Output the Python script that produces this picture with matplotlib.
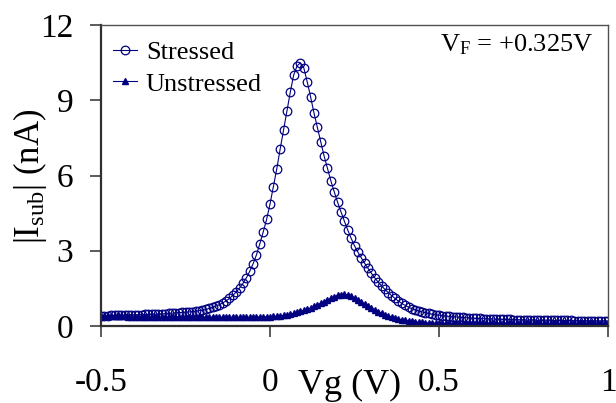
import numpy as np
import matplotlib
matplotlib.use("Agg")
import matplotlib.pyplot as plt

plt.rcParams['font.family'] = ['Liberation Serif', 'DejaVu Serif']
plt.rcParams['mathtext.fontset'] = 'custom'
plt.rcParams['mathtext.rm'] = 'Liberation Serif'
plt.rcParams['mathtext.it'] = 'Liberation Serif:italic'

# Gate voltage sweep (V), 10 mV steps from -0.5 to 1.0
vg = np.round(np.arange(-50, 101) / 100.0, 2)

stressed = [
    0.40, 0.41, 0.41, 0.42, 0.42, 0.43, 0.43, 0.44, 0.44, 0.44,
    0.45, 0.45, 0.45, 0.46, 0.46, 0.47, 0.47, 0.48, 0.48, 0.49,
    0.50, 0.51, 0.52, 0.53, 0.54, 0.55, 0.56, 0.57, 0.59, 0.61,
    0.63, 0.66, 0.70, 0.74, 0.79, 0.85, 0.92, 1.00, 1.10, 1.22,
    1.36, 1.52, 1.70, 1.92, 2.18, 2.48, 2.84, 3.28, 3.75, 4.25,
    4.86, 5.55, 6.26, 7.05, 7.81, 8.57, 9.32, 10.00, 10.37, 10.49,
    10.29, 9.74, 9.14, 8.50, 7.92, 7.35, 6.78, 6.29, 5.79, 5.35,
    4.93, 4.55, 4.18, 3.83, 3.50, 3.20, 2.95, 2.72, 2.50, 2.30,
    2.10, 1.92, 1.75, 1.60, 1.46, 1.33, 1.21, 1.10, 0.99, 0.90,
    0.82, 0.75, 0.69, 0.64, 0.60, 0.56, 0.53, 0.50, 0.47, 0.45,
    0.43, 0.41, 0.40, 0.38, 0.37, 0.36, 0.35, 0.34, 0.33, 0.32,
    0.31, 0.30, 0.30, 0.29, 0.29, 0.28, 0.28, 0.27, 0.27, 0.26,
    0.26, 0.26, 0.25, 0.25, 0.25, 0.24, 0.24, 0.24, 0.24, 0.23,
    0.23, 0.23, 0.23, 0.23, 0.22, 0.22, 0.22, 0.22, 0.22, 0.22,
    0.21, 0.21, 0.21, 0.21, 0.21, 0.21, 0.20, 0.20, 0.20, 0.20,
    0.20,
]

unstressed = [
    0.38, 0.38, 0.38, 0.38, 0.38, 0.38, 0.38, 0.38, 0.37, 0.37,
    0.37, 0.37, 0.37, 0.37, 0.37, 0.37, 0.37, 0.36, 0.36, 0.36,
    0.36, 0.36, 0.36, 0.36, 0.36, 0.36, 0.36, 0.36, 0.36, 0.36,
    0.35, 0.35, 0.35, 0.35, 0.35, 0.35, 0.35, 0.35, 0.35, 0.35,
    0.35, 0.35, 0.35, 0.35, 0.35, 0.36, 0.36, 0.36, 0.36, 0.37,
    0.37, 0.38, 0.39, 0.40, 0.42, 0.44, 0.47, 0.50, 0.54, 0.58,
    0.62, 0.67, 0.72, 0.78, 0.84, 0.90, 0.97, 1.04, 1.11, 1.17,
    1.22, 1.25, 1.26, 1.24, 1.19, 1.12, 1.04, 0.96, 0.88, 0.80,
    0.72, 0.64, 0.57, 0.51, 0.45, 0.40, 0.35, 0.31, 0.28, 0.25,
    0.22, 0.20, 0.18, 0.16, 0.15, 0.14, 0.13, 0.12, 0.12, 0.11,
    0.11, 0.11, 0.10, 0.10, 0.10, 0.10, 0.10, 0.10, 0.10, 0.10,
    0.10, 0.10, 0.10, 0.10, 0.10, 0.10, 0.10, 0.10, 0.10, 0.10,
    0.10, 0.10, 0.10, 0.10, 0.10, 0.10, 0.10, 0.10, 0.10, 0.10,
    0.10, 0.10, 0.10, 0.10, 0.10, 0.10, 0.10, 0.10, 0.10, 0.10,
    0.10, 0.10, 0.10, 0.10, 0.10, 0.10, 0.10, 0.10, 0.10, 0.10,
    0.10,
]

xticks = [-0.5, 0, 0.5, 1]
xticklabels = ['-0.5', '0', '0.5', '1']
yticks = [0, 3, 6, 9, 12]
yticklabels = ['0', '3', '6', '9', '12']

navy = '#000080'

fig = plt.figure(figsize=(6.16, 4.03), dpi=100)
ax = fig.add_axes([101/616, 1 - 326/403, (608 - 101)/616, (326 - 25)/403])

ax.plot(vg, stressed, color=navy, lw=0.8, marker='o', ms=6.2, mfc='none',
        mec=navy, mew=0.9, label='Stressed')
ax.plot(vg, unstressed, color=navy, lw=0.8, marker='^', ms=4.8,
        mfc=navy, mec=navy, label='Unstressed')

ax.set_xlim(-0.5, 1.0)
ax.set_ylim(0, 12)
ax.set_xticks(xticks)
ax.set_xticklabels(xticklabels)
ax.set_yticks(yticks)
ax.set_yticklabels(yticklabels)
ax.tick_params(axis='both', direction='out', length=8, width=1.2,
               colors='#404040', labelcolor='black', labelsize=24)
ax.tick_params(axis='x', pad=22)
ax.tick_params(axis='y', pad=12)

for side in ['left', 'bottom']:
    ax.spines[side].set_color('#303030')
    ax.spines[side].set_linewidth(1.6)
for side in ['top', 'right']:
    ax.spines[side].set_color('#505050')
    ax.spines[side].set_linewidth(1.0)

fig.text(350/616, 1 - 369/403, 'Vg (V)', fontsize=26, ha='center', va='top')
fig.text(30/616, 1 - 176/403, '|I$_{\\mathrm{sub}}$| (nA)', fontsize=25,
         rotation=90, ha='center', va='center')

ax.text(0.970, 0.933, 'V$_{\\mathrm{F}}$ = +0.325V', transform=ax.transAxes,
        fontsize=19, ha='right', va='center')

leg = ax.legend(loc='upper left', bbox_to_anchor=(-0.008, 1.0), frameon=False,
                fontsize=19, handlelength=0.9, handletextpad=0.35,
                labelspacing=0.3, borderaxespad=0.2)

fig.savefig('out.png', dpi=100)
